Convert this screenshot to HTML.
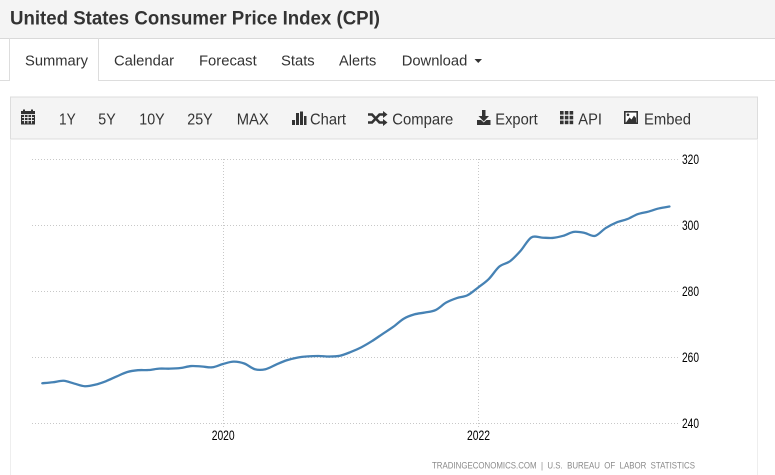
<!DOCTYPE html>
<html><head><meta charset="utf-8"><style>
html,body{margin:0;padding:0;background:#fff;}
svg{display:block;font-family:"Liberation Sans",Arial,sans-serif;}
</style></head><body>
<svg width="775" height="475" viewBox="0 0 775 475" xmlns="http://www.w3.org/2000/svg">
<rect x="0" y="0" width="775" height="475" fill="#fff"/>
<!-- title bar -->
<rect x="0" y="0" width="775" height="38" fill="#f4f4f4"/>
<line x1="0" y1="38.5" x2="775" y2="38.5" stroke="#d9d9d9" stroke-width="1"/>
<text x="10" y="24.5" font-size="19.5" font-weight="bold" fill="#333" textLength="370" lengthAdjust="spacingAndGlyphs">United States Consumer Price Index (CPI)</text>
<!-- tabs -->
<line x1="0" y1="80.5" x2="9" y2="80.5" stroke="#ddd"/>
<line x1="98" y1="80.5" x2="775" y2="80.5" stroke="#ddd"/>
<line x1="9.5" y1="38" x2="9.5" y2="81" stroke="#ddd"/>
<line x1="98.5" y1="38" x2="98.5" y2="81" stroke="#ddd"/>
<g font-size="15" fill="#333">
<text x="25" y="65.5" textLength="63" lengthAdjust="spacingAndGlyphs">Summary</text>
<text x="114" y="65.5" textLength="60" lengthAdjust="spacingAndGlyphs">Calendar</text>
<text x="199" y="65.5" textLength="57.7" lengthAdjust="spacingAndGlyphs">Forecast</text>
<text x="281" y="65.5" textLength="33.7" lengthAdjust="spacingAndGlyphs">Stats</text>
<text x="339" y="65.5" textLength="37.3" lengthAdjust="spacingAndGlyphs">Alerts</text>
<text x="401.7" y="65.5" textLength="65.6" lengthAdjust="spacingAndGlyphs">Download</text>
</g>
<polygon points="474.5,59 482,59 478.25,63" fill="#333"/>
<!-- toolbar -->
<rect x="10.5" y="97" width="747" height="42" fill="#f4f4f4" stroke="#ddd" stroke-width="1"/>
<line x1="10.5" y1="139" x2="10.5" y2="475" stroke="#eee"/>
<line x1="757.5" y1="139" x2="757.5" y2="475" stroke="#eee"/>
<g font-size="16" fill="#333">
<text x="59" y="124.5" textLength="16.7" lengthAdjust="spacingAndGlyphs">1Y</text>
<text x="98.3" y="124.5" textLength="17.4" lengthAdjust="spacingAndGlyphs">5Y</text>
<text x="139.3" y="124.5" textLength="25.4" lengthAdjust="spacingAndGlyphs">10Y</text>
<text x="187.3" y="124.5" textLength="25.4" lengthAdjust="spacingAndGlyphs">25Y</text>
<text x="236.7" y="124.5" textLength="32" lengthAdjust="spacingAndGlyphs">MAX</text>
<text x="310" y="124.5" textLength="36" lengthAdjust="spacingAndGlyphs">Chart</text>
<text x="392.3" y="124.5" textLength="61" lengthAdjust="spacingAndGlyphs">Compare</text>
<text x="495.3" y="124.5" textLength="42.4" lengthAdjust="spacingAndGlyphs">Export</text>
<text x="578.3" y="124.5" textLength="23.7" lengthAdjust="spacingAndGlyphs">API</text>
<text x="644" y="124.5" textLength="47" lengthAdjust="spacingAndGlyphs">Embed</text>
</g>
<!-- calendar icon -->
<g fill="#333">
<rect x="21" y="111" width="14" height="13.5"/>
<rect x="23" y="109.5" width="2" height="3"/>
<rect x="31" y="109.5" width="2" height="3"/>
</g>
<g stroke="#f4f4f4" stroke-width="0.9">
<line x1="21" y1="114.5" x2="35" y2="114.5"/>
<line x1="22" y1="117.5" x2="34" y2="117.5"/>
<line x1="22" y1="120.5" x2="34" y2="120.5"/>
<line x1="24.5" y1="115" x2="24.5" y2="123.5"/>
<line x1="28" y1="115" x2="28" y2="123.5"/>
<line x1="31.5" y1="115" x2="31.5" y2="123.5"/>
</g>
<!-- bar icon -->
<g fill="#333">
<rect x="292" y="120" width="3" height="5"/>
<rect x="296" y="113" width="3" height="12"/>
<rect x="300" y="111.5" width="3" height="13.5"/>
<rect x="304" y="116" width="2.5" height="9"/>
</g>
<!-- shuffle icon -->
<g stroke="#333" stroke-width="2.6" fill="none">
<path d="M368,114.5 h4 l7.5,8 h4"/>
<path d="M368,122.5 h4 l7.5,-8 h4"/>
</g>
<g fill="#333">
<polygon points="383,111 387.5,114.5 383,118"/>
<polygon points="383,119 387.5,122.5 383,126"/>
</g>
<!-- export icon -->
<g fill="#333">
<rect x="482" y="110" width="3.5" height="7"/>
<polygon points="478.5,116 489,116 483.75,121.5"/>
<path d="M477,120 h4 l2.75,2.5 l2.75,-2.5 h4 v5 h-13.5 z"/>
</g>
<!-- API icon -->
<g fill="#333">
<rect x="560" y="111" width="3.6" height="3.6"/><rect x="564.8" y="111" width="3.6" height="3.6"/><rect x="569.6" y="111" width="3.6" height="3.6"/>
<rect x="560" y="115.8" width="3.6" height="3.6"/><rect x="564.8" y="115.8" width="3.6" height="3.6"/><rect x="569.6" y="115.8" width="3.6" height="3.6"/>
<rect x="560" y="120.6" width="3.6" height="3.6"/><rect x="564.8" y="120.6" width="3.6" height="3.6"/><rect x="569.6" y="120.6" width="3.6" height="3.6"/>
</g>
<!-- embed icon -->
<rect x="624.8" y="111.8" width="12.4" height="11.4" fill="#fff" stroke="#333" stroke-width="1.6"/>
<polygon points="626,122.5 629.5,117.5 631.5,119.5 634,115.5 636,118 636,122.5" fill="#333"/>
<circle cx="628" cy="114.8" r="1.3" fill="#333"/>
<!-- grid -->
<g stroke="#c8c8c8" stroke-width="1" stroke-dasharray="1,2">
<line x1="32" y1="159.5" x2="680" y2="159.5"/>
<line x1="32" y1="225.5" x2="680" y2="225.5"/>
<line x1="32" y1="291.5" x2="680" y2="291.5"/>
<line x1="32" y1="357.5" x2="680" y2="357.5"/>
<line x1="32" y1="423.5" x2="680" y2="423.5"/>
<line x1="223.5" y1="159" x2="223.5" y2="428"/>
<line x1="478.5" y1="159" x2="478.5" y2="428"/>
</g>
<g font-size="13.5" fill="#000">
<text x="682" y="164" textLength="17" lengthAdjust="spacingAndGlyphs">320</text>
<text x="682" y="230" textLength="17" lengthAdjust="spacingAndGlyphs">300</text>
<text x="682" y="296" textLength="17" lengthAdjust="spacingAndGlyphs">280</text>
<text x="682" y="362" textLength="17" lengthAdjust="spacingAndGlyphs">260</text>
<text x="682" y="428" textLength="17" lengthAdjust="spacingAndGlyphs">240</text>
<text x="211.7" y="440" textLength="23" lengthAdjust="spacingAndGlyphs">2020</text>
<text x="467" y="440" textLength="23" lengthAdjust="spacingAndGlyphs">2022</text>
</g>
<text x="432" y="468.5" font-size="9.5" fill="#8a8a8a" xml:space="preserve" style="white-space:pre" textLength="263" lengthAdjust="spacingAndGlyphs">TRADINGECONOMICS.COM  |  U.S.  BUREAU  OF  LABOR  STATISTICS</text>
<!-- series -->
<path id="series" fill="none" stroke="#4682b4" stroke-width="2.3" stroke-linejoin="round" stroke-linecap="round" d="M42.29,383.22 L52.92,382.25 63.55,380.78 74.18,383.57 84.81,386.23 95.44,384.65 106.07,381.14 116.7,376.43 127.33,371.99 137.96,370.2 148.59,370.03 159.22,368.62 169.85,368.66 180.48,368 191.11,366.06 201.74,366.51 212.37,367.29 223,364 233.63,361.66 244.26,363.52 254.89,369.22 265.52,369.2 276.15,364.57 286.78,360.27 297.41,357.57 308.04,356.38 318.67,356.02 329.3,356.54 339.93,355.74 350.56,352.08 361.19,347.35 371.82,341.21 382.45,334.02 393.08,326.96 403.71,318.7 414.34,314.39 424.97,312.53 435.6,310.08 446.23,302.56 456.86,298.07 467.49,295.25 478.12,287.51 488.75,279.04 499.38,266.54 510.01,261.24 520.64,250.72 531.27,237.47 541.9,237.59 552.53,237.94 563.16,235.83 573.79,231.86 584.42,232.85 595.05,235.87 605.68,228.04 616.31,222.53 626.94,219.24 637.57,214.2 648.2,211.68 658.83,208.44 669.46,206.52"/>
</svg>
<script>
(function(){
var ys=[383.22,382.25,380.78,383.57,386.23,384.65,381.14,376.43,371.99,370.2,370.03,368.62,368.66,368,366.06,366.51,367.29,364,361.66,363.52,369.22,369.2,364.57,360.27,357.57,356.38,356.02,356.54,355.74,352.08,347.35,341.21,334.02,326.96,318.7,314.39,312.53,310.08,302.56,298.07,295.25,287.51,279.04,266.54,261.24,250.72,237.47,237.59,237.94,235.83,231.86,232.85,235.87,228.04,222.53,219.24,214.2,211.68,208.44,206.52];
var p=[];for(var i=0;i<ys.length;i++)p.push([42.29+10.63*i,ys[i]]);
var d="M"+p[0][0].toFixed(2)+","+p[0][1].toFixed(2);
for(var i=0;i<p.length-1;i++){
var p0=p[i-1]||p[i],p1=p[i],p2=p[i+1],p3=p[i+2]||p[i+1];
var c1x=p1[0]+(p2[0]-p0[0])/6,c1y=p1[1]+(p2[1]-p0[1])/6;
var c2x=p2[0]-(p3[0]-p1[0])/6,c2y=p2[1]-(p3[1]-p1[1])/6;
d+=" C"+c1x.toFixed(2)+","+c1y.toFixed(2)+" "+c2x.toFixed(2)+","+c2y.toFixed(2)+" "+p2[0].toFixed(2)+","+p2[1].toFixed(2);
}
document.getElementById("series").setAttribute("d",d);
})();
</script>
</body></html>
